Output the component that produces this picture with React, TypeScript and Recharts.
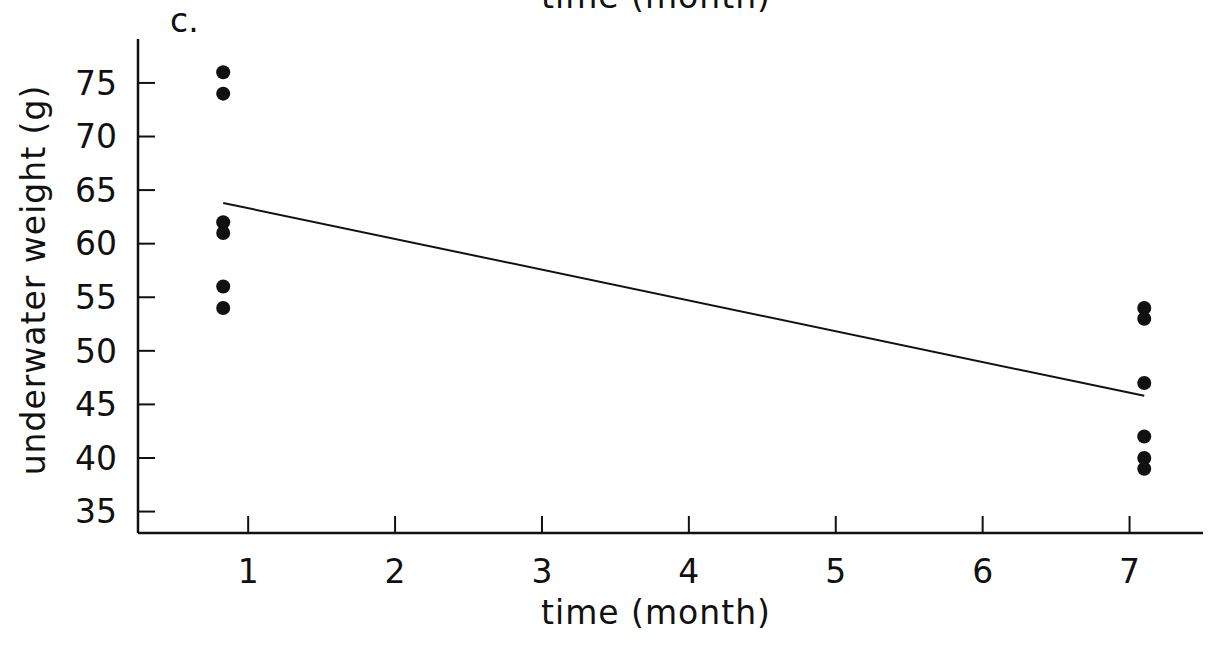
import { Scatter, ScatterChart, XAxis, YAxis } from 'recharts'

// underwater weight (g) measured at the two sampling times
const earlyMonth = 0.83
const lateMonth = 7.1
const earlyWeights = [76, 74, 62, 61, 56, 54]
const lateWeights = [54, 53, 47, 42, 40, 39]

// fitted line through the two groups
const fitMonths = [0.83, 7.1]
const fitWeights = [63.8, 45.8]

const xTicks = [1, 2, 3, 4, 5, 6, 7]
const yTicks = [35, 40, 45, 50, 55, 60, 65, 70, 75]

const points = [
  ...earlyWeights.map((w) => ({ month: earlyMonth, weight: w })),
  ...lateWeights.map((w) => ({ month: lateMonth, weight: w })),
]
const fit = fitMonths.map((m, i) => ({ month: m, weight: fitWeights[i] }))

const FONT = '"DejaVu Sans", sans-serif'
const INK = '#111'

const Dot = (props: { cx?: number; cy?: number }) => (
  <circle cx={props.cx} cy={props.cy} r={7} fill={INK} />
)

export default function App() {
  return (
    <div style={{ position: 'fixed', left: 0, top: 0, width: 1210, height: 658, background: '#fff' }}>
      <ScatterChart width={1210} height={658} margin={{ top: 39, right: 7, bottom: 0, left: 0 }}>
        <XAxis
          type="number"
          dataKey="month"
          domain={[0.25, 7.5]}
          ticks={xTicks}
          height={125}
          axisLine={{ stroke: INK, strokeWidth: 2.5 }}
          tickLine={{ stroke: INK, strokeWidth: 2 }}
          tickSize={-17}
          tickMargin={44}
          tick={{ fill: INK, fontSize: 33, fontFamily: FONT }}
          allowDataOverflow
        />
        <YAxis
          type="number"
          dataKey="weight"
          domain={[33, 79.1]}
          ticks={yTicks}
          width={138}
          axisLine={{ stroke: INK, strokeWidth: 2.5 }}
          tickLine={{ stroke: INK, strokeWidth: 2 }}
          tickSize={-17}
          tickMargin={38}
          tick={{ fill: INK, fontSize: 33, fontFamily: FONT }}
          allowDataOverflow
        />
        <Scatter
          data={fit}
          line={{ stroke: INK, strokeWidth: 2 }}
          shape={() => <g />}
          isAnimationActive={false}
        />
        <Scatter data={points} shape={<Dot />} isAnimationActive={false} />
      </ScatterChart>
      <svg
        width={1210}
        height={658}
        style={{ position: 'absolute', left: 0, top: 0, pointerEvents: 'none' }}
        fontFamily={FONT}
        fill={INK}
      >
        {/* title of the panel above, clipped by the page edge */}
        <text x={656} y={8} fontSize={33} textAnchor="middle" letterSpacing={1}>
          time (month)
        </text>
        <text x={170} y={32} fontSize={33}>
          c.
        </text>
        <text
          x={45}
          y={280}
          fontSize={33}
          textAnchor="middle"
          transform="rotate(-90 45 280)"
          letterSpacing={1}
        >
          underwater weight (g)
        </text>
        <text x={656} y={624} fontSize={33} textAnchor="middle" letterSpacing={1}>
          time (month)
        </text>
      </svg>
    </div>
  )
}
